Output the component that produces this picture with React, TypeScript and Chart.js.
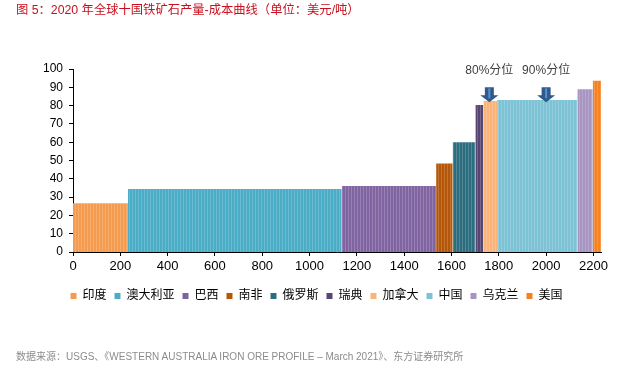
import React, { useEffect, useRef } from "react";
import { Chart, registerables } from "chart.js";

Chart.register(...registerables);

const countries = ["印度", "澳大利亚", "巴西", "南非", "俄罗斯", "瑞典", "加拿大", "中国", "乌克兰", "美国"];
const cumStart = [0, 232, 1136, 1535, 1605, 1701, 1735, 1793, 2132, 2197];
const cumEnd = [232, 1136, 1535, 1605, 1701, 1735, 1793, 2132, 2197, 2232];
const costs = [26.7, 34.4, 36.1, 48.4, 60.0, 80.3, 82.5, 83.0, 89.0, 93.6];
const colors = ["#F59B4F", "#4BACC6", "#8064A2", "#B65708", "#2C6E7F", "#574673", "#FAB47A", "#7CC3D6", "#A794C1", "#F58220"];
const markerLabels = ["80%分位", "90%分位"];
const markerX = [1760, 2000];
const markerY = [90, 90];
const xTicks = [0, 200, 400, 600, 800, 1000, 1200, 1400, 1600, 1800, 2000, 2200];

const FONT = "'Liberation Sans', 'Noto Sans CJK SC', Arial, sans-serif";

function makePattern(color: string): CanvasPattern | string {
  const c = document.createElement("canvas");
  c.width = 3;
  c.height = 4;
  const ctx = c.getContext("2d");
  if (!ctx) return color;
  ctx.fillStyle = color;
  ctx.fillRect(0, 0, 3, 4);
  ctx.fillStyle = "rgba(255,255,255,0.18)";
  ctx.fillRect(0, 0, 1, 4);
  const p = ctx.createPattern(c, "repeat");
  return p || color;
}

const arrowPlugin = {
  id: "arrows",
  afterDatasetsDraw(chart: any) {
    const { ctx, scales } = chart;
    const xs = scales.x;
    const ys = scales.y;
    ctx.save();
    markerX.forEach((mx, i) => {
      const cx = xs.getPixelForValue(mx);
      const top = ys.getPixelForValue(markerY[i]);
      ctx.fillStyle = "#2F5B8C";
      ctx.beginPath();
      ctx.moveTo(cx - 4.5, top);
      ctx.lineTo(cx + 4.5, top);
      ctx.lineTo(cx + 4.5, top + 8);
      ctx.lineTo(cx + 9, top + 8);
      ctx.lineTo(cx, top + 15);
      ctx.lineTo(cx - 9, top + 8);
      ctx.lineTo(cx - 4.5, top + 8);
      ctx.closePath();
      ctx.fill();
      ctx.fillStyle = "#5A8FCB";
      ctx.fillRect(cx - 1, top + 1, 2, 10);
      ctx.fillStyle = "#404040";
      ctx.font = "12px " + FONT;
      ctx.textAlign = "center";
      ctx.textBaseline = "middle";
      ctx.fillText(markerLabels[i], cx, top - 17);
    });
    ctx.restore();
  },
};

export default function App() {
  const ref = useRef<HTMLCanvasElement>(null);
  useEffect(() => {
    document.body.style.margin = "0";
    if (!ref.current) return;
    const datasets = countries.map((name, i) => ({
      label: name,
      data: [
        { x: cumStart[i], y: costs[i] },
        { x: cumEnd[i], y: costs[i] },
      ],
      backgroundColor: makePattern(colors[i]),
      borderColor: colors[i],
      borderWidth: 0,
      pointRadius: 0,
      fill: "origin",
      tension: 0,
      legendColor: colors[i],
    }));
    const chart = new Chart(ref.current, {
      type: "line",
      data: { datasets: datasets as any },
      plugins: [arrowPlugin],
      options: {
        animation: false,
        responsive: false,
        maintainAspectRatio: false,
        layout: { padding: { top: 69, right: 27, left: 32, bottom: 56 } },
        plugins: {
          tooltip: { enabled: false },
          legend: {
            position: "bottom",
            labels: {
              boxWidth: 6,
              boxHeight: 6,
              padding: 8,
              color: "#333",
              font: { family: FONT, size: 12 },
              generateLabels(chart: any) {
                return chart.data.datasets.map((ds: any, i: number) => ({
                  text: ds.label,
                  fillStyle: ds.legendColor,
                  strokeStyle: ds.legendColor,
                  lineWidth: 0,
                  hidden: false,
                  datasetIndex: i,
                }));
              },
            },
          },
        },
        scales: {
          x: {
            type: "linear",
            min: 0,
            max: cumEnd[cumEnd.length - 1],
            afterBuildTicks(scale: any) {
              scale.ticks = xTicks.map((v) => ({ value: v }));
            },
            afterFit(scale: any) {
              scale.height = 30;
            },
            grid: { drawOnChartArea: false, drawTicks: true, tickLength: 4, color: "#000" },
            border: { display: true, color: "#000", width: 1 },
            ticks: {
              color: "#000",
              font: { family: FONT, size: 13 },
              padding: 3,
              maxRotation: 0,
              autoSkip: false,
              callback: (v: any) => String(v),
            },
          },
          y: {
            min: 0,
            max: 100,
            afterFit(scale: any) {
              scale.width = 41;
            },
            grid: { drawOnChartArea: false, drawTicks: true, tickLength: 4, color: "#000" },
            border: { display: true, color: "#000", width: 1 },
            ticks: { stepSize: 10, color: "#000", font: { family: FONT, size: 12 }, padding: 6 },
          },
        },
      },
    });
    return () => chart.destroy();
  }, []);

  return (
    <div style={{ position: "relative", width: 628, height: 368, background: "#fff", overflow: "hidden" }}>
      <canvas ref={ref} width={628} height={368} style={{ position: "absolute", left: 0, top: 0, width: 628, height: 368 }} />
      <div
        style={{
          position: "absolute",
          left: 16,
          top: 1,
          fontFamily: FONT,
          fontSize: 12.3,
          color: "#C8101E",
          whiteSpace: "nowrap",
          lineHeight: "18px",
        }}
      >
        图 5：2020 年全球十国铁矿石产量-成本曲线（单位：美元/吨）
      </div>
      <div
        style={{
          position: "absolute",
          left: 16,
          top: 350,
          fontFamily: FONT,
          fontSize: 10,
          color: "#8C8C8C",
          whiteSpace: "nowrap",
          lineHeight: "14px",
        }}
      >
        数据来源：USGS、《WESTERN AUSTRALIA IRON ORE PROFILE – March 2021》、东方证券研究所
      </div>
    </div>
  );
}
